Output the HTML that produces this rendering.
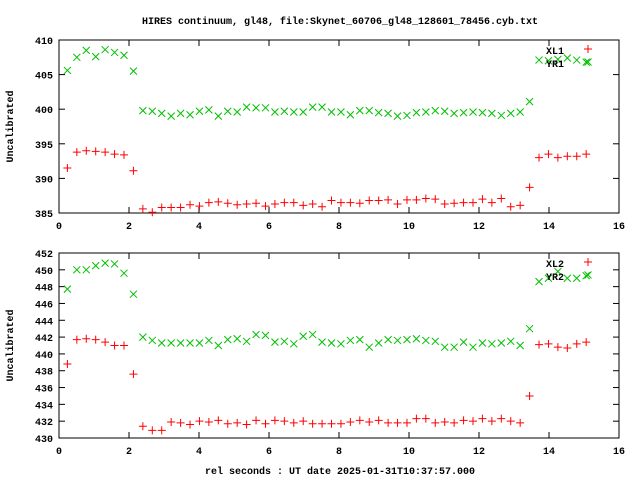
<!DOCTYPE html>
<html><head><meta charset="utf-8"><style>
body{margin:0;background:#fff}
svg text{font-family:"Liberation Mono",monospace;font-weight:bold;font-size:10px;fill:#000}
</style></head><body>
<svg id="c" width="640" height="480" xmlns="http://www.w3.org/2000/svg">
<rect width="640" height="480" fill="#fff"/>
<text x="340" y="24" text-anchor="middle">HIRES continuum, gl48, file:Skynet_60706_gl48_128601_78456.cyb.txt</text>
<text x="340" y="474" text-anchor="middle">rel seconds : UT date 2025-01-31T10:37:57.000</text>
</svg>
<script>
const t0 = 0.24, dt = 0.2695;
const xTicks = [0,2,4,6,8,10,12,14,16];
const yTicks1 = [385,390,395,400,405,410];
const yTicks2 = [430,432,434,436,438,440,442,444,446,448,450,452];
const xl1 = [391.5,393.8,394.0,393.9,393.8,393.5,393.4,391.1,
385.6,385.1,385.8,385.8,385.8,386.2,386.0,386.5,386.6,386.4,386.2,386.3,386.4,386.0,386.3,386.5,386.5,386.1,386.3,385.9,386.8,386.5,
386.5,386.4,386.8,386.8,386.9,386.3,386.9,386.9,387.1,387.0,386.3,386.4,386.5,386.5,387.0,386.5,387.1,385.9,386.1,388.7,393.0,393.5,393.0,393.2,393.2,393.5];
const yr1 = [405.6,407.5,408.5,407.6,408.6,408.2,407.8,405.5,
399.8,399.7,399.4,399.0,399.4,399.2,399.7,399.9,399.0,399.7,399.6,400.3,400.2,400.2,399.6,399.7,399.6,399.6,400.3,400.3,399.6,399.6,
399.2,399.8,399.8,399.5,399.4,399.0,399.1,399.5,399.6,399.8,399.7,399.4,399.5,399.6,399.5,399.4,399.1,399.4,399.6,401.1,407.1,407.0,407.2,407.4,407.1,406.8];
const xl2 = [438.8,441.7,441.8,441.7,441.4,441.0,441.0,437.6,
431.4,430.9,430.9,431.9,431.8,431.6,432.0,431.9,432.1,431.7,431.8,431.6,432.1,431.7,432.1,432.0,431.8,432.0,431.7,431.7,431.7,431.7,
431.9,432.1,431.9,432.1,431.8,431.8,431.8,432.3,432.3,431.8,431.9,431.8,432.1,432.0,432.3,432.0,432.3,432.0,431.8,435.0,441.1,441.2,440.8,440.7,441.2,441.4];
const yr2 = [447.7,450.0,450.0,450.5,450.8,450.7,449.6,447.1,
442.0,441.6,441.3,441.3,441.3,441.3,441.3,441.6,441.0,441.7,441.8,441.5,442.3,442.2,441.4,441.5,441.2,442.1,442.3,441.4,441.3,441.2,
441.6,441.7,440.8,441.3,441.7,441.6,441.7,441.8,441.6,441.5,440.8,440.8,441.4,440.8,441.3,441.2,441.3,441.5,441.0,443.0,448.6,449.0,449.8,449.0,449.0,449.3];

const svg = document.getElementById('c');
const NS = 'http://www.w3.org/2000/svg';
function mk(tag, a){const e=document.createElementNS(NS,tag);for(const k in a)e.setAttribute(k,a[k]);svg.appendChild(e);return e;}
const X0=59,X1=619,xMin=0,xMax=16;
const sx=v=>X0+(v-xMin)/(xMax-xMin)*(X1-X0);

function panel(id, top, bot, yMin, yMax, yTicks, s1, s2, n1, n2){
  const sy=v=>bot-(v-yMin)/(yMax-yMin)*(bot-top);
  const fr=mk('rect',{x:X0,y:top,width:X1-X0,height:bot-top,fill:'none',stroke:'#000','stroke-width':1});
  
  
  yTicks.forEach(v=>{
    const y=sy(v);
    mk('line',{x1:X0,y1:y,x2:X0+6,y2:y,stroke:'#000'});
    mk('line',{x1:X1,y1:y,x2:X1-6,y2:y,stroke:'#000'});
    const t=mk('text',{x:X0-6,y:y+4,'text-anchor':'end'});
    t.textContent=v;
    
    
  });
  xTicks.forEach(v=>{
    const x=sx(v);
    mk('line',{x1:x,y1:bot,x2:x,y2:bot-6,stroke:'#000'});
    mk('line',{x1:x,y1:top,x2:x,y2:top+6,stroke:'#000'});
    const t=mk('text',{x:x,y:bot+16,'text-anchor':'middle'});
    t.textContent=v;
    
    
  });
  const yl=mk('text',{x:0,y:0,'text-anchor':'middle',transform:`translate(13,${(top+bot)/2}) rotate(-90)`});
  yl.textContent='Uncalibrated';
  
  
  function plus(x,y,name){const p=mk('path',{d:`M${x-4},${y}h8M${x},${y-4}v8`,stroke:'#f00','stroke-width':1,fill:'none'});
    
    }
  function cross(x,y,name){const p=mk('path',{d:`M${x-3.5},${y-3.5}l7,7M${x-3.5},${y+3.5}l7,-7`,stroke:'#00c000','stroke-width':1,fill:'none'});
    
    }
  s2.forEach((v,i)=>cross(sx(t0+i*dt),sy(v),n2.toLowerCase()+'-point'));
  s1.forEach((v,i)=>plus(sx(t0+i*dt),sy(v),n1.toLowerCase()+'-point'));
  const l1=mk('text',{x:564,y:top+14,'text-anchor':'end'});l1.textContent=n1;
  
  
  plus(588,top+9,id+'-legend-marker-1');
  const l2=mk('text',{x:564,y:top+27,'text-anchor':'end'});l2.textContent=n2;
  
  
  cross(588,top+22,id+'-legend-marker-2');
}
panel('top-panel',40,213,385,410,yTicks1,xl1,yr1,'XL1','YR1');
panel('bottom-panel',253,438,430,452,yTicks2,xl2,yr2,'XL2','YR2');
</script>
</body></html>
